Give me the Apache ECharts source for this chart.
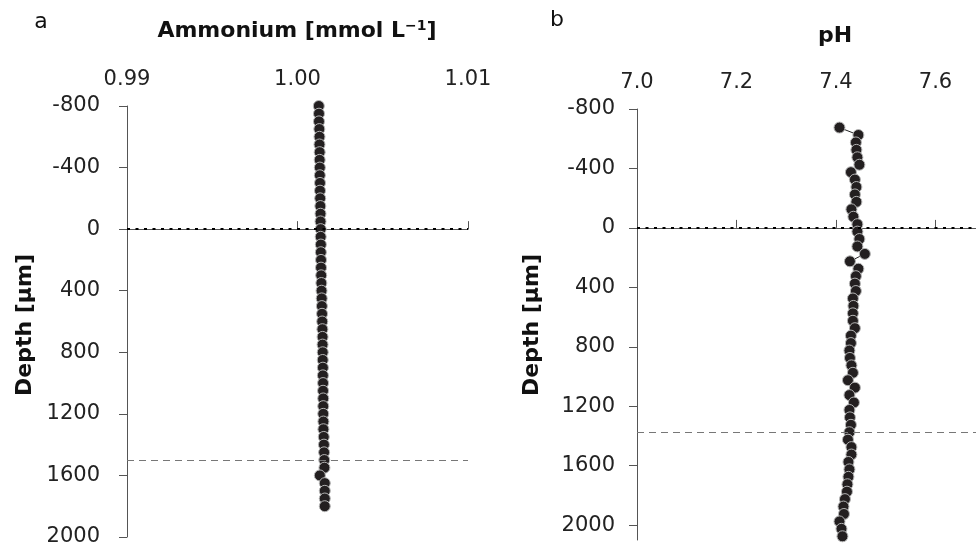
<!DOCTYPE html>
<html>
<head>
<meta charset="utf-8">
<script src="https://cdn.jsdelivr.net/npm/echarts@6/dist/echarts.min.js"></script>
<style>
  html, body { margin: 0; padding: 0; background: #fff; }
  #main { width: 976px; height: 552px; }
</style>
</head>
<body>
<div id="main"></div>
<script>
// panel a: ammonium profile
const depthA = [-800, -750, -700, -650, -600, -550, -500, -450, -400, -350, -300, -250, -200, -150, -100, -50,
  0, 50, 100, 150, 200, 250, 300, 350, 400, 450, 500, 550, 600, 650, 700, 750, 800, 850, 900, 950,
  1000, 1050, 1100, 1150, 1200, 1250, 1300, 1350, 1400, 1450, 1500, 1550, 1600, 1650, 1700, 1750, 1800];
const ammonium = [1.00125, 1.00126, 1.00126, 1.00128, 1.00129, 1.00129, 1.00130, 1.00130, 1.00131, 1.00131,
  1.00132, 1.00132, 1.00133, 1.00134, 1.00135, 1.00135, 1.00136, 1.00136, 1.00137, 1.00137,
  1.00138, 1.00138, 1.00139, 1.00140, 1.00141, 1.00142, 1.00143, 1.00144, 1.00145, 1.00146,
  1.00147, 1.00147, 1.00148, 1.00148, 1.00149, 1.00149, 1.00150, 1.00150, 1.00151, 1.00151,
  1.00151, 1.00152, 1.00152, 1.00154, 1.00155, 1.00156, 1.00157, 1.00158, 1.00131, 1.00160,
  1.00160, 1.00160, 1.00160];

// panel b: pH profile
const depthB = [-675, -625, -575, -525, -475, -425, -375, -325, -275, -225, -175, -125, -75, -25,
  25, 75, 125, 175, 225, 275, 325, 375, 425, 475, 525, 575, 625, 675, 725, 775, 825, 875, 925, 975,
  1025, 1075, 1125, 1175, 1225, 1275, 1325, 1375, 1425, 1475, 1525, 1575, 1625, 1675, 1725, 1775,
  1825, 1875, 1925, 1975, 2025, 2075];
const ph = [7.407, 7.445, 7.440, 7.441, 7.443, 7.447, 7.430, 7.438, 7.441, 7.438, 7.441, 7.431, 7.435, 7.443,
  7.443, 7.447, 7.443, 7.458, 7.428, 7.445, 7.440, 7.438, 7.440, 7.434, 7.435, 7.434, 7.434, 7.438,
  7.430, 7.430, 7.427, 7.428, 7.431, 7.434, 7.424, 7.438, 7.427, 7.436, 7.427, 7.428, 7.430, 7.427,
  7.424, 7.431, 7.431, 7.425, 7.427, 7.425, 7.423, 7.422, 7.418, 7.415, 7.416, 7.407, 7.411, 7.413];

const depthTicks = [-800, -400, 0, 400, 800, 1200, 1600, 2000];
const ammoniumTicks = [0.99, 1.00, 1.01];
const phTicks = [7.0, 7.2, 7.4, 7.6, 7.8];
const surfaceA = 0, boundaryA = 1500;
const surfaceB = 0, boundaryB = 1375;

const FONT = '"DejaVu Sans", sans-serif';
const axisColor = '#555';

const chart = echarts.init(document.getElementById('main'));

function xAxisOf(gridIndex, min, max, ticks, digits) {
  return {
    gridIndex, type: 'value', position: 'top', min, max,
    axisLine: { lineStyle: { color: axisColor, width: 1 } },
    axisTick: { length: 8, lineStyle: { color: axisColor }, customValues: ticks },
    axisLabel: { customValues: ticks, margin: 16, fontSize: 21, color: '#222', fontFamily: FONT,
      formatter: v => v.toFixed(digits) },
    splitLine: { show: false }
  };
}

function yAxisOf(gridIndex, max, margin) {
  return {
    gridIndex, type: 'value', inverse: true, min: -800, max,
    axisLine: { show: true, lineStyle: { color: axisColor, width: 1 } },
    axisTick: { show: true, length: 8, lineStyle: { color: axisColor }, customValues: depthTicks },
    axisLabel: { customValues: depthTicks, margin, fontSize: 21, color: '#222', fontFamily: FONT,
      formatter: v => String(v) },
    splitLine: { show: false }
  };
}

function refLines(surface, boundary) {
  return {
    silent: true, symbol: 'none', label: { show: false },
    data: [
      { yAxis: surface, lineStyle: { type: [3, 5.5], color: '#000', width: 2 } },
      { yAxis: boundary, lineStyle: { type: [7, 5], color: '#777', width: 1 } }
    ]
  };
}

function profile(idx, xs, ys, surface, boundary) {
  return {
    type: 'line', xAxisIndex: idx, yAxisIndex: idx,
    data: xs.map((v, i) => [v, ys[i]]),
    symbol: 'circle', symbolSize: 11, clip: false,
    lineStyle: { color: '#222', width: 1 },
    itemStyle: { color: '#231f20', borderColor: '#b5b5b5', borderWidth: 1 },
    markLine: refLines(surface, boundary),
    z: 3
  };
}

const titleStyle = { font: 'bold 22px ' + FONT, fill: '#111', textAlign: 'center', textVerticalAlign: 'middle' };

chart.setOption({
  animation: false,
  grid: [
    { left: 127, top: 106, width: 341, height: 431, outerBoundsMode: 'none' },
    { left: 637, top: 109, width: 398, height: 431, outerBoundsMode: 'none' }
  ],
  xAxis: [
    xAxisOf(0, 0.99, 1.01, ammoniumTicks, 2),
    xAxisOf(1, 7.0, 7.8, phTicks, 1)
  ],
  yAxis: [
    yAxisOf(0, 2000, 27),
    yAxisOf(1, 2100, 22)
  ],
  series: [
    profile(0, ammonium, depthA, surfaceA, boundaryA),
    profile(1, ph, depthB, surfaceB, boundaryB)
  ],
  graphic: [
    { type: 'text', x: 41, y: 22, style: { text: 'a', font: '22px ' + FONT, fill: '#111', textAlign: 'center', textVerticalAlign: 'middle' } },
    { type: 'text', x: 557, y: 20, style: { text: 'b', font: '22px ' + FONT, fill: '#111', textAlign: 'center', textVerticalAlign: 'middle' } },
    { type: 'text', x: 297, y: 31, style: Object.assign({}, titleStyle, {
        text: 'Ammonium [mmol L{sup|−1}]',
        rich: { sup: { font: 'bold 14px ' + FONT, fill: '#111', verticalAlign: 'top', padding: [0, 0, 10, 0] } }
      }) },
    { type: 'text', x: 835, y: 36, style: Object.assign({}, titleStyle, { text: 'pH' }) },
    { type: 'text', x: 25, y: 325, rotation: Math.PI / 2, style: Object.assign({}, titleStyle, { text: 'Depth [μm]' }) },
    { type: 'text', x: 532, y: 325, rotation: Math.PI / 2, style: Object.assign({}, titleStyle, { text: 'Depth [μm]' }) }
  ]
});
</script>
</body>
</html>
